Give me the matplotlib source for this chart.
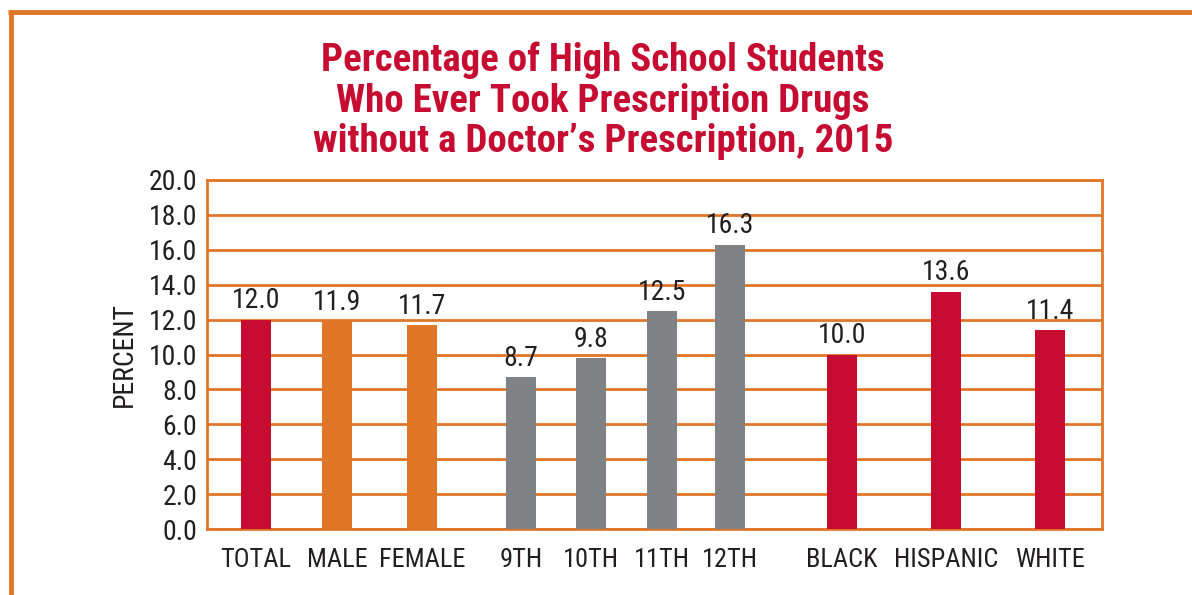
import matplotlib.pyplot as plt
from matplotlib.lines import Line2D
from matplotlib import font_manager

# Data
categories = ['TOTAL', 'MALE', 'FEMALE', '9TH', '10TH', '11TH', '12TH', 'BLACK', 'HISPANIC', 'WHITE']
values = [12.0, 11.9, 11.7, 8.7, 9.8, 12.5, 16.3, 10.0, 13.6, 11.4]
groups = ['total', 'sex', 'sex', 'grade', 'grade', 'grade', 'grade', 'race', 'race', 'race']

# Layout: bar centres (in pixels from the left edge of the plot area)
positions = [49, 130, 215, 314, 384, 455, 523, 635, 739, 843]
bar_width = 30

crimson = '#C60C30'
orange = '#E07628'
gray = '#808285'
text_col = '#231F20'
group_colors = {'total': crimson, 'sex': orange, 'grade': gray, 'race': crimson}

# pick a narrow font if one is installed
fonts = font_manager.fontManager.ttflist
names = {f.name for f in fonts}
stretch = 'normal'
family = 'Liberation Sans'
for cand in ['Liberation Sans Narrow', 'Roboto Condensed', 'Open Sans Condensed']:
    if cand in names:
        family = cand
        break
else:
    if any(f.name == 'DejaVu Sans' and 'Condensed' in f.fname for f in fonts):
        family = 'DejaVu Sans'
        stretch = 'condensed'
narrow = family != 'Liberation Sans'
plt.rcParams['font.family'] = [family, 'DejaVu Sans']
plt.rcParams['font.stretch'] = stretch
scale = 1.0 if narrow else 0.9

fig = plt.figure(figsize=(11.92, 5.95), dpi=100)
ax = fig.add_axes([0.1737, 0.1109, 0.7508, 0.5866])

colors = [group_colors[g] for g in groups]
bars = ax.bar(positions, values, width=bar_width, color=colors, zorder=3)

for x, v in zip(positions, values):
    ax.text(x, v + 0.3, f'{v:.1f}', ha='center', va='bottom',
            fontsize=20 * scale, color=text_col, zorder=4)

ax.set_xlim(0, 895)
ax.set_ylim(0, 20)
ax.set_yticks([i * 2 for i in range(11)])
ax.set_yticklabels([f'{i * 2:.1f}' for i in range(11)], fontsize=20 * scale, color=text_col)
ax.set_xticks(positions)
ax.set_xticklabels(categories, fontsize=19 * scale, color=text_col)
ax.tick_params(axis='both', length=0)
ax.tick_params(axis='y', pad=7)
ax.tick_params(axis='x', pad=14)

ax.grid(axis='y', color=orange, linewidth=2, zorder=1)
ax.set_axisbelow(True)
for side in ['left', 'right', 'top', 'bottom']:
    ax.spines[side].set_color(orange)
    ax.spines[side].set_linewidth(2)
    ax.spines[side].set_zorder(2)

ax.set_ylabel('PERCENT', fontsize=20 * scale, color=text_col, labelpad=8)

# Title
fig.text(0.506, 0.830, 'Percentage of High School Students\nWho Ever Took Prescription Drugs\n'
         'without a Doctor\u2019s Prescription, 2015',
         ha='center', va='center', fontsize=28 * scale, fontweight='bold', color=crimson,
         linespacing=1.12)

# Orange frame on top and left
fig.add_artist(Line2D([8 / 1192, 1], [1 - 12 / 595, 1 - 12 / 595], color=orange, linewidth=3.5,
                      transform=fig.transFigure, solid_capstyle='butt'))
fig.add_artist(Line2D([10.5 / 1192, 10.5 / 1192], [0, 1 - 10 / 595], color=orange, linewidth=3.5,
                      transform=fig.transFigure, solid_capstyle='butt'))

fig.savefig('out.png', dpi=100)
